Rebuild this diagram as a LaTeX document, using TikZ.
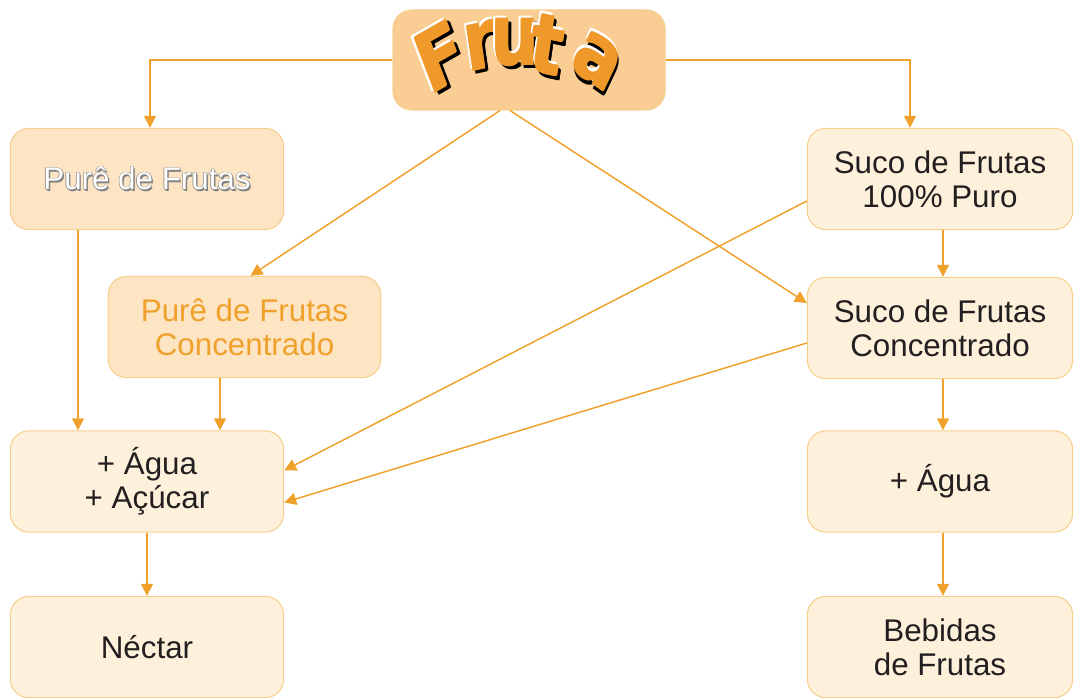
\documentclass[tikz,border=0pt]{standalone}
\usepackage{fontspec}
\setmainfont{Liberation Sans}
\newfontfamily\frutafont{DejaVu Sans}
\usetikzlibrary{arrows.meta,calc}
\definecolor{arr}{HTML}{EFA12C}
\definecolor{bord}{HTML}{F6CF8E}
\definecolor{pale}{HTML}{FEF1DC}
\definecolor{pure}{HTML}{FDE4C2}
\definecolor{frbox}{HTML}{F9CD93}
\definecolor{frorange}{HTML}{F0992B}
\definecolor{txt}{HTML}{231F20}
\definecolor{outl}{HTML}{8A8A8A}
\newcommand\frgcopy[3]{\rlap{\kern#1\raisebox{#2}{\textcolor{#3}{\frgchar}}}}
\newcommand\frutaglyph[1]{\leavevmode\def\frgchar{#1}%
  \frgcopy{2.4pt}{-2.4pt}{black}\frgcopy{3.4pt}{-3.4pt}{black}\frgcopy{3.4pt}{-2.4pt}{black}\frgcopy{2.4pt}{-3.4pt}{black}%
  \frgcopy{-1.8pt}{1.8pt}{white}\frgcopy{-1pt}{1.8pt}{white}\frgcopy{-1.8pt}{1pt}{white}%
  \frgcopy{0pt}{0pt}{frorange}\frgcopy{1pt}{0pt}{frorange}\frgcopy{0pt}{-1pt}{frorange}\frgcopy{1pt}{-1pt}{frorange}%
  \phantom{#1}}
\newcommand\outltext[1]{\leavevmode
  \rlap{\kern1.1pt\raisebox{-1.1pt}{\textcolor{gray}{#1}}}%
  \rlap{\kern-0.5pt{\textcolor{outl}{#1}}}%
  \rlap{\kern0.5pt{\textcolor{outl}{#1}}}%
  \rlap{\raisebox{0.5pt}{\textcolor{outl}{#1}}}%
  \rlap{\raisebox{-0.5pt}{\textcolor{outl}{#1}}}%
  \textcolor{white}{#1}}
\begin{document}
\begin{tikzpicture}[x=0.75pt,y=-0.75pt,
  box/.style={draw=bord, line width=0.8pt, rounded corners=14pt, fill=pale,
    minimum width=205pt, minimum height=76pt, align=center, inner sep=0pt,
    font=\fontsize{23.5pt}{25.5pt}\selectfont, text=txt},
  rbox/.style={box, minimum width=199pt},
  con/.style={draw=arr, line width=1.1pt, -{Triangle[length=9pt,width=9pt]}},
  letter/.style={inner sep=0pt, font=\frutafont\bfseries\fontsize{62pt}{62pt}\selectfont, xscale=0.82}]
\useasboundingbox (0,0) rectangle (1075,698);
% boxes
\node[box, fill=frbox, minimum width=204pt, minimum height=75pt] (fruta) at (529,60) {};
\node[box, fill=pure] (pure) at (147,179) {\outltext{Purê de Frutas}};
\node[box, fill=pure, text=arr, minimum width=204.5pt] (purec) at (244.5,327) {Purê de Frutas\\Concentrado};
\node[rbox] (suco) at (940,179) {Suco de Frutas\\100\% Puro};
\node[rbox] (sucoc) at (940,328) {Suco de Frutas\\Concentrado};
\node[box] (agua1) at (147,481.5) {+ Água\\+ Açúcar};
\node[rbox] (agua2) at (940,481.5) {+ Água};
\node[box] (nectar) at (147,647) {Néctar};
\node[rbox] (bebidas) at (940,647) {Bebidas\\de Frutas};
% Fruta word art
\node[letter, rotate=25] (lF) at (440,57) {\frutaglyph{F}};
\node[letter, rotate=10] (lr) at (481,46) {\frutaglyph{r}};
\node[letter, rotate=0] (lu) at (515,43) {\frutaglyph{u}};
\node[letter, rotate=-10] (lt) at (547,45) {\frutaglyph{t}};
\node[letter, rotate=-30] (la) at (597,61) {\frutaglyph{a}};
% connectors
\draw[con] (fruta.west) -| ($(pure.north)+(3,0)$);
\draw[con] (fruta.east) -| ($(suco.north)+(-30,0)$);
\draw[con] ($(fruta.south)+(-29,0)$) -- ($(purec.north)+(6,0)$);
\draw[con] ($(fruta.south)+(-19,0)$) -- ($(sucoc.west)+(0,-25)$);
\draw[con] ($(suco.west)+(0,22)$) -- ($(agua1.east)+(0,-11)$);
\draw[con] ($(sucoc.west)+(0,15)$) -- ($(agua1.east)+(0,21)$);
\draw[con] ($(pure.south)+(-69,0)$) -- ($(agua1.north)+(-69,0)$);
\draw[con] ($(purec.south)+(-24.5,0)$) -- ($(agua1.north)+(73,0)$);
\draw[con] ($(suco.south)+(3,0)$) -- ($(sucoc.north)+(3,0)$);
\draw[con] ($(sucoc.south)+(3,0)$) -- ($(agua2.north)+(3,0)$);
\draw[con] (agua1.south) -- (nectar.north);
\draw[con] ($(agua2.south)+(3,0)$) -- ($(bebidas.north)+(3,0)$);
\end{tikzpicture}
\end{document}
